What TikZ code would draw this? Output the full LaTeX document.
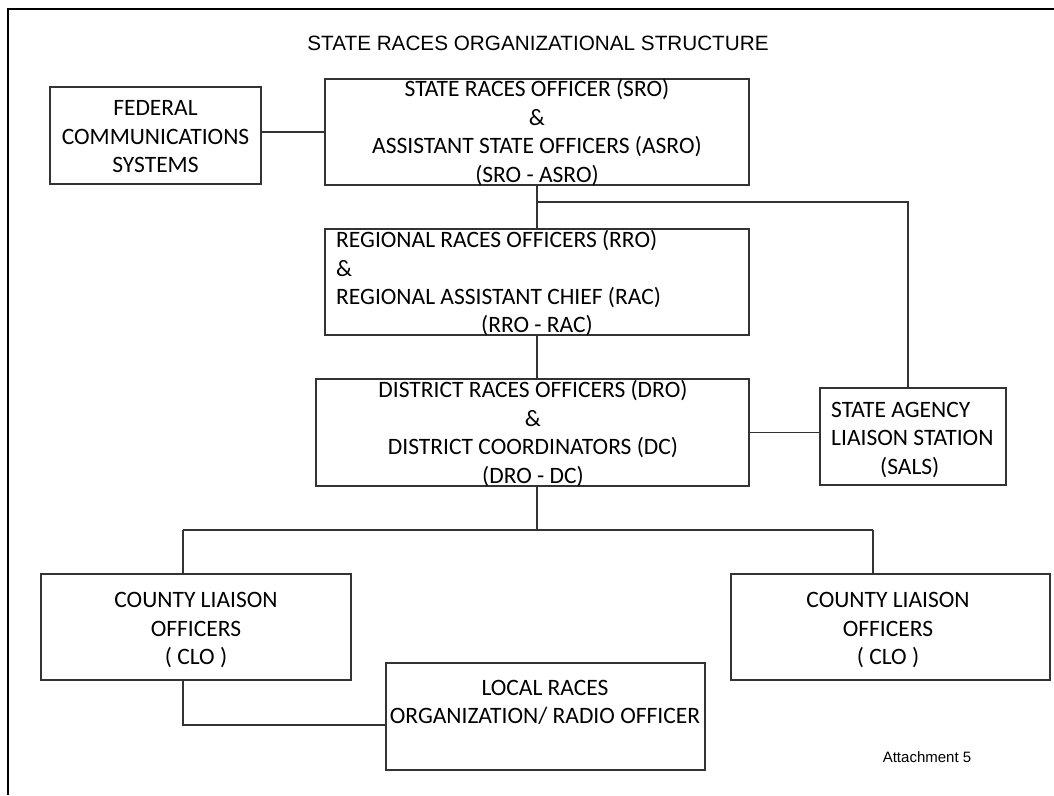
\documentclass[tikz,border=0pt]{standalone}
\usepackage{fontspec}
\setmainfont{Carlito}
\newfontfamily\arialfont{Liberation Sans}
\begin{document}
\begin{tikzpicture}[x=1pt,y=-1pt,
  box/.style={draw=black!80, line width=1.2pt, inner sep=0pt, minimum width=#1},
  txt/.style={inner sep=0pt, yshift=-1.5pt, font=\fontsize{23.5}{28.5}\selectfont},
  conn/.style={draw=black!80, line width=1.2pt}]
\useasboundingbox (0,0) rectangle (1054,795);
\fill[white] (0,0) rectangle (1054,795);
% frame
\draw[line width=2.2pt, black] (8,795) -- (8,9) -- (1054,9);
% title
\node[inner sep=0pt, font=\arialfont\fontsize{20.7}{24}\selectfont] (title) at (538,43.5) {STATE RACES ORGANIZATIONAL STRUCTURE};
% boxes
\node[box=211pt, minimum height=97pt] (fcs) at (155.5,135.5) {};
\node[box=424pt, minimum height=106pt] (sro) at (537,132) {};
\node[box=424pt, minimum height=106pt] (rro) at (537,282) {};
\node[box=433pt, minimum height=107pt] (dro) at (532.5,432.5) {};
\node[box=186pt, minimum height=97pt] (sals) at (913,436.5) {};
\node[box=310pt, minimum height=106pt] (clol) at (196,627) {};
\node[box=319pt, minimum height=106pt] (clor) at (890.5,627) {};
\node[box=319pt, minimum height=107pt] (local) at (545.5,716.5) {};
% texts
\node[txt, align=center] at (155.5,135.5) {FEDERAL\\COMMUNICATIONS\\SYSTEMS};
\node[txt, align=center] at (537,131) {STATE RACES OFFICER (SRO)\\\&\\ASSISTANT STATE OFFICERS (ASRO)\\(SRO - ASRO)};
\node[txt, align=left, anchor=west] (rrot) at (336,268) {REGIONAL RACES OFFICERS (RRO)\\\&\\REGIONAL ASSISTANT CHIEF (RAC)};
\node[txt] at (537,324) {(RRO - RAC)};
\node[txt, align=center] at (533,432) {DISTRICT RACES OFFICERS (DRO)\\\&\\DISTRICT COORDINATORS (DC)\\(DRO - DC)};
\node[txt, align=left, anchor=west] at (831,422.5) {STATE AGENCY\\LIAISON STATION};
\node[txt, anchor=west] at (880,466) {(SALS)};
\node[txt, align=center] at (196,628.5) {COUNTY LIAISON\\OFFICERS\\( CLO )};
\node[txt, align=center] at (888,628.5) {COUNTY LIAISON\\OFFICERS\\( CLO )};
\node[txt, align=center] at (545,701) {LOCAL RACES\\ORGANIZATION/ RADIO OFFICER};
\node[inner sep=0pt, font=\arialfont\fontsize{15}{18}\selectfont] (att) at (927,757) {Attachment 5};
% connectors
\draw[conn] (sro.west) -- (sro.west -| fcs.east);
\draw[conn] (sro.south) -- (rro.north);
\coordinate (br) at (537,202);
\coordinate (salsin) at (908,202);
\draw[conn] (br) -- (salsin) -- (salsin |- sals.north);
\draw[conn] (rro.south) -- (rro.south |- dro.north);
\draw[conn] (dro.east) -- (dro.east -| sals.west);
\coordinate (drob) at (537,486);
\coordinate (hub) at (537,530);
\coordinate (hl) at (183,530);
\coordinate (hr) at (873,530);
\draw[conn] (drob) -- (hub);
\draw[conn] (hl) -- (hr);
\draw[conn] (hl) -- (hl |- clol.north);
\draw[conn] (hr) -- (hr |- clor.north);
\coordinate (cb) at (183,680);
\coordinate (cc) at (183,725);
\draw[conn] (cb) -- (cc) -- (cc -| local.west);
\end{tikzpicture}
\end{document}
